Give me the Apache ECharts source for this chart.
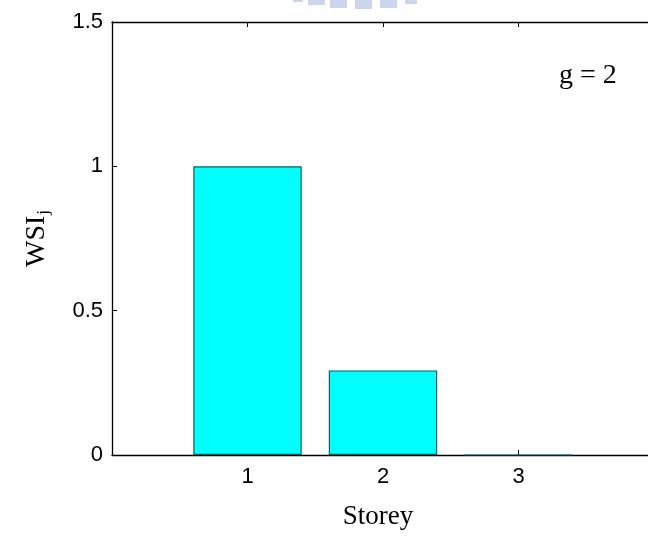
<!DOCTYPE html>
<html>
<head>
<meta charset="utf-8">
<script src="https://cdn.jsdelivr.net/npm/echarts@6/dist/echarts.min.js"></script>
<style>html,body{margin:0;padding:0;background:#fff;}#c{width:648px;height:536px;}</style>
</head>
<body>
<div id="c"></div>
<script>
const storeys = [1, 2, 3];
const wsi = [1.0, 0.293, 0.0];
const yTicks = [0, 0.5, 1, 1.5];
const xTickLabels = ['1', '2', '3'];
const annotation = 'g = 2';

const chart = echarts.init(document.getElementById('c'));
const sans = 'Liberation Sans, Arial, sans-serif';
const serif = 'Liberation Serif, Times New Roman, serif';

const wm = '#cbd5eb';
const option = {
  animation: false,
  backgroundColor: '#fff',
  grid: { left: 112, top: 22, height: 433, width: 542, containLabel: false, outerBoundsMode: 'none' },
  xAxis: [{
    type: 'value', min: 0, max: 4, interval: 1, position: 'bottom',
    axisLine: { show: true, lineStyle: { color: '#000', width: 1.3 } },
    axisTick: { show: true, inside: true, length: 5, lineStyle: { color: '#000' } },
    splitLine: { show: false },
    axisLabel: {
      color: '#000', fontFamily: sans, fontSize: 22, margin: 11,
      formatter: v => { const i = storeys.indexOf(v); return i >= 0 ? xTickLabels[i] : ''; }
    },
    name: 'Storey', nameLocation: 'middle', nameGap: 48,
    nameTextStyle: { color: '#000', fontFamily: serif, fontSize: 27, padding: [0, 10, 0, 0] }
  }, {
    type: 'value', min: 0, max: 4, interval: 1, position: 'top',
    axisLine: { show: true, lineStyle: { color: '#000', width: 1.3 } },
    axisTick: { show: true, inside: true, length: 5, lineStyle: { color: '#000' } },
    splitLine: { show: false },
    axisLabel: { show: false }
  }],
  yAxis: [{
    type: 'value', min: 0, max: 1.5, interval: 0.5,
    axisLine: { show: true, lineStyle: { color: '#000', width: 1.3 } },
    axisTick: { show: true, inside: true, length: 5, lineStyle: { color: '#000' } },
    splitLine: { show: false },
    axisLabel: {
      color: '#000', fontFamily: sans, fontSize: 22, margin: 9,
      formatter: v => yTicks.includes(v) ? String(v) : ''
    },
    name: '{a|WSI}{b|j}', nameLocation: 'middle', nameGap: 60, nameRotate: 90,
    nameTextStyle: {
      color: '#000',
      rich: {
        a: { fontFamily: serif, fontSize: 28, color: '#000' },
        b: { fontFamily: serif, fontSize: 17, color: '#000', padding: [14, 0, 0, 1] }
      }
    }
  }],
  series: [{
    type: 'bar',
    xAxisIndex: 0, yAxisIndex: 0,
    data: storeys.map((s, i) => [s, wsi[i]]),
    barWidth: '80%',
    itemStyle: { color: '#00ffff', borderColor: '#0b5f5f', borderWidth: 1.2 },
    emphasis: { disabled: true }
  }],
  graphic: [
    { type: 'text', left: 559, top: 62, style: { text: annotation, font: '28px ' + serif, fill: '#000' } },
    { type: 'rect', shape: { x: 293, y: 0, width: 10, height: 2 }, style: { fill: wm } },
    { type: 'rect', shape: { x: 308, y: 0, width: 17, height: 5 }, style: { fill: wm } },
    { type: 'rect', shape: { x: 330, y: 0, width: 17, height: 8 }, style: { fill: wm } },
    { type: 'rect', shape: { x: 355, y: 0, width: 17, height: 9 }, style: { fill: wm } },
    { type: 'rect', shape: { x: 380, y: 0, width: 17, height: 8 }, style: { fill: wm } },
    { type: 'rect', shape: { x: 405, y: 0, width: 12, height: 4 }, style: { fill: wm } }
  ]
};
chart.setOption(option);
</script>
</body>
</html>
